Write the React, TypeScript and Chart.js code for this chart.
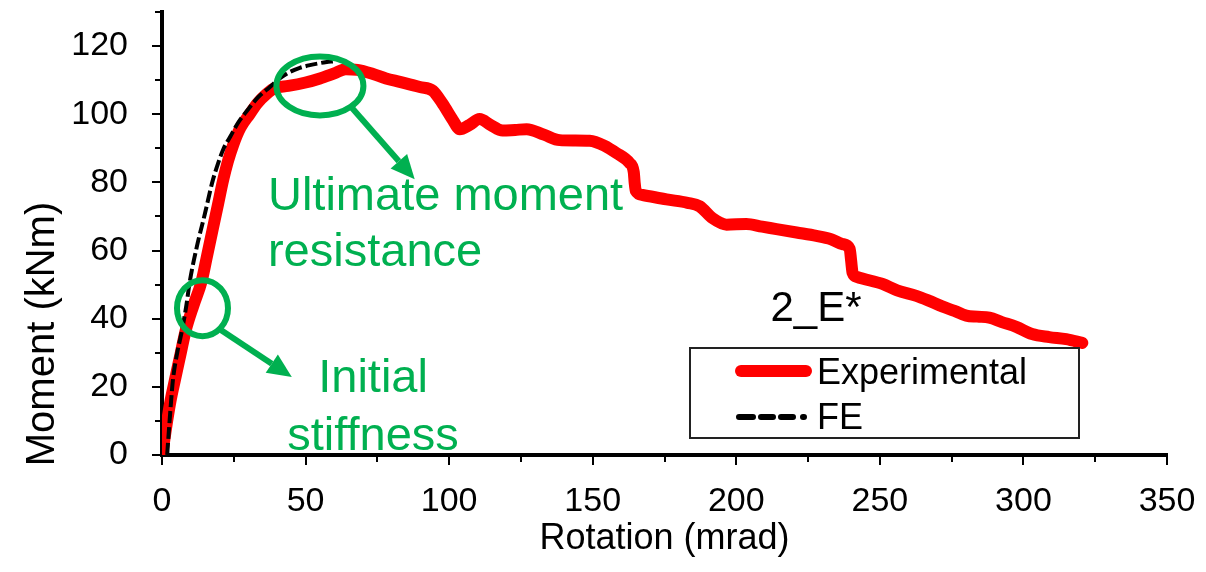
import React, { useEffect, useRef } from "react";
import { Chart, registerables } from "chart.js";

Chart.register(...registerables);

// ---------- data ----------
const experimentalRotation = [
  0, 0.8, 1.8, 3, 4.5, 6.3, 8.3, 11, 13.8, 15.7, 17.6, 19.5, 21.3, 22.9, 24.8, 27.3, 30.5, 33.3, 36.5, 39.3,
  44, 50, 55, 60, 64, 68, 73.5, 78, 82.8, 89.8, 94.3, 97.8, 101.3, 103.7, 107, 110.6, 114.5,
  118.6, 123, 127, 133, 138.5, 143.5, 148.9, 154, 158.3, 162.8, 164.3, 164.6, 165, 167.4,
  175.7, 183, 187.2, 191.7, 196.6, 203.5, 209, 214, 221, 227.9, 233, 237, 239.5, 240, 240.5,
  242, 250.9, 256, 262.7, 267, 271.7, 276, 280.1, 284, 288.1, 292.5, 297.5, 303, 309, 314.9,
  320.5,
];
const experimentalMoment = [
  0, 4.4, 10, 16, 22, 29, 36.7, 44, 51, 58.5, 66, 73.5, 80.7, 86, 91, 96, 100, 103.3, 106, 107.7,
  108.3, 109.3, 110.5, 112, 113.2, 113, 111.8, 110.5, 109.5, 108, 106.9, 103, 98.3, 95.6, 96.8,
  98.6, 96.8, 95.2, 95.4, 95.6, 94, 92.4, 92.3, 92.2, 90.8, 88.6, 85.7, 83, 80, 77.5, 76.3, 75,
  74, 73, 69.5, 67.6, 67.8, 67, 66.3, 65.3, 64.3, 63.3, 61.9, 60.5, 57, 53.5, 52.3, 50.2, 48.3,
  46.7, 45.3, 43.6, 42.3, 40.9, 40.6, 40.3, 39, 37.6, 35.5, 34.6, 34, 32.9,
];
const feRotation = [
  1.8, 2.3, 3, 3.8, 5.3, 7, 8.5, 9.7, 12.1, 15, 17.5, 19.3, 21.5, 23.7, 26.5, 29.6, 33.5, 37.6,
  41, 44.5, 48, 51.5, 55, 57.4, 59.5,
];
const feMoment = [
  0, 6, 14, 22, 30, 36.7, 44, 51, 61, 71, 80, 85, 90, 93.3, 97.5, 101, 105, 108, 110.5, 112.4,
  113.6, 114.4, 115, 115.3, 115.5,
];

const seriesNames = ["Experimental", "FE"];
const xAxisTitle = "Rotation (mrad)";
const yAxisTitle = "Moment (kNm)";
const specimenLabel = "2_E*";
const ultimateLabel = ["Ultimate moment", "resistance"];
const stiffnessLabel = ["Initial", "stiffness"];

// annotation anchors in data units
const ultimateEllipseAt = { x: 55, y: 108.3 };
const ultimateArrowFrom = { x: 65.5, y: 102.5 };
const ultimateArrowTo = { x: 88, y: 80.9 };
const ultimateTextAt = { x: 36.9, y: 71.8, line2: 55.4 };
const stiffnessEllipseAt = { x: 14.1, y: 43.1 };
const stiffnessArrowFrom = { x: 20.5, y: 36.7 };
const stiffnessArrowTo = { x: 45.2, y: 22.9 };
const stiffnessTextAt = { x: 73.5, y: 18.4, line2: 1.5 };
const specimenTextAt = { x: 211.9, y: 39.2 };

const FONT = "'Liberation Sans', Arial, Helvetica, sans-serif";
const GREEN = "#00B050";
const RED = "#FF0000";

function drawArrow(ctx: CanvasRenderingContext2D, x1: number, y1: number, x2: number, y2: number) {
  const ang = Math.atan2(y2 - y1, x2 - x1);
  const headLen = 24;
  const headHalf = 11;
  const bx = x2 - headLen * Math.cos(ang);
  const by = y2 - headLen * Math.sin(ang);
  ctx.beginPath();
  ctx.moveTo(x1, y1);
  ctx.lineTo(bx, by);
  ctx.lineWidth = 6;
  ctx.strokeStyle = GREEN;
  ctx.stroke();
  ctx.beginPath();
  ctx.moveTo(x2, y2);
  ctx.lineTo(bx + headHalf * Math.sin(ang), by - headHalf * Math.cos(ang));
  ctx.lineTo(bx - headHalf * Math.sin(ang), by + headHalf * Math.cos(ang));
  ctx.closePath();
  ctx.fillStyle = GREEN;
  ctx.fill();
}

const decorPlugin = {
  id: "decor",
  afterDraw(chart: any) {
    const ctx: CanvasRenderingContext2D = chart.ctx;
    const xs = chart.scales.x;
    const ys = chart.scales.y;
    const area = chart.chartArea;
    const px = (v: number) => xs.getPixelForValue(v);
    const py = (v: number) => ys.getPixelForValue(v);
    ctx.save();

    // minor ticks
    ctx.strokeStyle = "#000";
    ctx.lineWidth = 2;
    for (let v = 25; v < 350; v += 50) {
      const x = Math.round(px(v));
      ctx.beginPath();
      ctx.moveTo(x, area.bottom);
      ctx.lineTo(x, area.bottom + 7);
      ctx.stroke();
    }
    for (let v = 10; v <= 130; v += 20) {
      const y = Math.round(py(v));
      ctx.beginPath();
      ctx.moveTo(area.left, y);
      ctx.lineTo(area.left - 7, y);
      ctx.stroke();
    }

    // axis titles
    ctx.fillStyle = "#000";
    ctx.font = `36px ${FONT}`;
    ctx.textAlign = "center";
    ctx.textBaseline = "alphabetic";
    ctx.fillText(xAxisTitle, (area.left + area.right) / 2, 549);
    ctx.save();
    ctx.font = `40px ${FONT}`;
    ctx.translate(54, 334);
    ctx.rotate(-Math.PI / 2);
    ctx.fillText(yAxisTitle, 0, 0);
    ctx.restore();

    // ellipses
    ctx.strokeStyle = GREEN;
    ctx.lineWidth = 6;
    ctx.beginPath();
    ctx.ellipse(px(ultimateEllipseAt.x), py(ultimateEllipseAt.y), 43.5, 29.5, 0, 0, Math.PI * 2);
    ctx.stroke();
    ctx.beginPath();
    ctx.ellipse(px(stiffnessEllipseAt.x), py(stiffnessEllipseAt.y), 25.5, 28, 0, 0, Math.PI * 2);
    ctx.stroke();

    drawArrow(ctx, px(ultimateArrowFrom.x), py(ultimateArrowFrom.y), px(ultimateArrowTo.x), py(ultimateArrowTo.y));
    drawArrow(ctx, px(stiffnessArrowFrom.x), py(stiffnessArrowFrom.y), px(stiffnessArrowTo.x), py(stiffnessArrowTo.y));

    // green labels
    ctx.fillStyle = GREEN;
    ctx.font = `47px ${FONT}`;
    ctx.textAlign = "left";
    ctx.fillText(ultimateLabel[0], px(ultimateTextAt.x), py(ultimateTextAt.y));
    ctx.fillText(ultimateLabel[1], px(ultimateTextAt.x), py(ultimateTextAt.line2));
    ctx.textAlign = "center";
    ctx.fillText(stiffnessLabel[0], px(stiffnessTextAt.x), py(stiffnessTextAt.y));
    ctx.fillText(stiffnessLabel[1], px(stiffnessTextAt.x), py(stiffnessTextAt.line2));

    // specimen label
    ctx.fillStyle = "#000";
    ctx.font = `42px ${FONT}`;
    ctx.textAlign = "left";
    ctx.fillText(specimenLabel, px(specimenTextAt.x), py(specimenTextAt.y));

    // legend
    const lx = 690, ly = 348, lw = 389, lh = 90;
    ctx.fillStyle = "#fff";
    ctx.fillRect(lx, ly, lw, lh);
    ctx.strokeStyle = "#222";
    ctx.lineWidth = 2;
    ctx.strokeRect(lx, ly, lw, lh);
    ctx.lineCap = "round";
    ctx.strokeStyle = RED;
    ctx.lineWidth = 12;
    ctx.beginPath();
    ctx.moveTo(741, 371);
    ctx.lineTo(806, 371);
    ctx.stroke();
    ctx.strokeStyle = "#000";
    ctx.lineWidth = 6;
    ctx.setLineDash([14, 8, 12, 8, 12, 10, 1, 20]);
    ctx.beginPath();
    ctx.moveTo(739, 417);
    ctx.lineTo(808, 417);
    ctx.stroke();
    ctx.setLineDash([]);
    ctx.lineCap = "butt";
    ctx.fillStyle = "#000";
    ctx.font = `36px ${FONT}`;
    ctx.textAlign = "left";
    ctx.fillText(seriesNames[0], 817, 384);
    ctx.fillText(seriesNames[1], 817, 429);

    ctx.restore();
  },
};

export default function App() {
  const canvasRef = useRef<HTMLCanvasElement | null>(null);

  useEffect(() => {
    document.body.style.margin = "0";
    const canvas = canvasRef.current;
    if (!canvas) return;
    const expData = experimentalRotation.map((x, i) => ({ x, y: experimentalMoment[i] }));
    const feData = feRotation.map((x, i) => ({ x, y: feMoment[i] }));
    const tickFont = { size: 34, family: FONT };
    const chart = new Chart(canvas, {
      type: "line",
      data: {
        datasets: [
          {
            label: seriesNames[0],
            data: expData,
            borderColor: RED,
            backgroundColor: RED,
            borderWidth: 12,
            borderCapStyle: "round",
            borderJoinStyle: "round",
            pointRadius: 0,
            cubicInterpolationMode: "monotone",
            order: 2,
          },
          {
            label: seriesNames[1],
            data: feData,
            borderColor: "#000",
            backgroundColor: "#000",
            borderWidth: 4,
            borderDash: [12, 4],
            pointRadius: 0,
            cubicInterpolationMode: "monotone",
            order: 1,
          },
        ],
      },
      options: {
        responsive: false,
        animation: false,
        devicePixelRatio: 1,
        layout: { padding: { top: 12, right: 39, left: 0, bottom: 0 } },
        plugins: { legend: { display: false }, tooltip: { enabled: false } },
        scales: {
          x: {
            type: "linear",
            min: 0,
            max: 350,
            ticks: { stepSize: 50, font: tickFont, color: "#000", padding: 16, autoSkip: false, maxRotation: 0 },
            grid: { drawOnChartArea: false, tickLength: 10, lineWidth: 2, tickWidth: 2, tickColor: "#000" },
            border: { display: true, color: "#000", width: 4 },
            afterFit: (s: any) => {
              s.height = 117;
              s.paddingLeft = 0;
              s.paddingRight = 0;
            },
          },
          y: {
            type: "linear",
            min: 0,
            max: 130,
            ticks: { stepSize: 20, includeBounds: false, font: tickFont, color: "#000", padding: 24 },
            grid: { drawOnChartArea: false, tickLength: 10, lineWidth: 2, tickWidth: 2, tickColor: "#000" },
            border: { display: true, color: "#000", width: 4 },
            afterFit: (s: any) => {
              s.width = 162;
              s.paddingTop = 0;
              s.paddingBottom = 0;
            },
          },
        },
      },
      plugins: [decorPlugin],
    } as any);
    return () => chart.destroy();
  }, []);

  return (
    <div style={{ width: 1206, height: 572, background: "#fff" }}>
      <canvas ref={canvasRef} width={1206} height={572} style={{ display: "block" }} />
    </div>
  );
}
